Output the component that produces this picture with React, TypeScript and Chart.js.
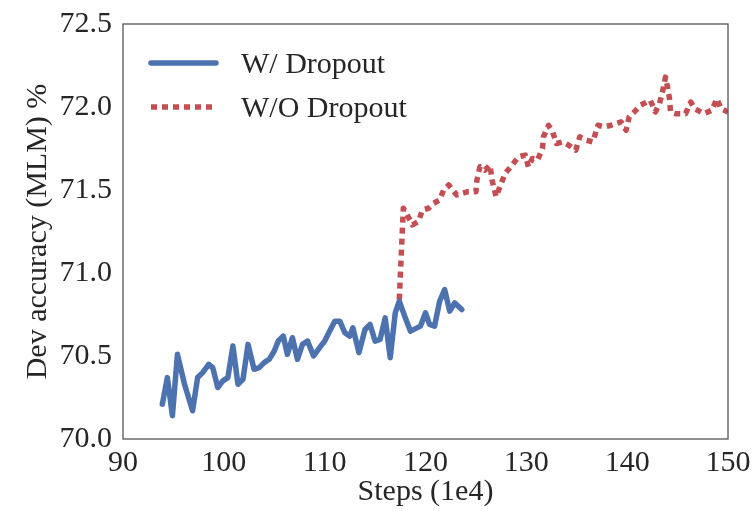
import React, { useEffect, useRef } from "react";
import { Chart, registerables } from "chart.js";

Chart.register(...registerables);

const blueX = [93.9, 94.4, 94.9, 95.4, 96.1, 96.9, 97.4, 97.9, 98.5, 98.9, 99.4, 99.9, 100.4, 100.9, 101.4, 101.9, 102.4, 103.0, 103.5, 104.0, 104.5, 105.0, 105.4, 105.9, 106.3, 106.8, 107.3, 107.8, 108.3, 108.9, 109.5, 110.0, 110.5, 111.0, 111.5, 112.0, 112.5, 112.8, 113.4, 114.0, 114.5, 115.0, 115.5, 116.0, 116.5, 117.0, 117.4, 118.0, 118.5, 119.5, 120.0, 120.4, 120.9, 121.4, 121.9, 122.4, 122.9, 123.6];
const blueY = [70.21, 70.37, 70.14, 70.51, 70.33, 70.17, 70.37, 70.40, 70.45, 70.43, 70.31, 70.35, 70.37, 70.56, 70.33, 70.36, 70.57, 70.42, 70.43, 70.46, 70.48, 70.53, 70.59, 70.62, 70.51, 70.61, 70.48, 70.57, 70.59, 70.50, 70.55, 70.59, 70.65, 70.71, 70.71, 70.64, 70.62, 70.67, 70.52, 70.66, 70.69, 70.59, 70.60, 70.73, 70.49, 70.76, 70.83, 70.73, 70.65, 70.68, 70.76, 70.69, 70.68, 70.83, 70.90, 70.77, 70.82, 70.78];

const redX = [117.4, 117.8, 118.1, 118.7, 119.3, 119.7, 120.3, 120.8, 121.4, 121.8, 122.3, 123.1, 124.2, 125.0, 125.1, 125.4, 125.9, 126.4, 126.6, 127.0, 127.9, 128.6, 129.2, 129.9, 130.2, 130.6, 131.1, 131.6, 131.7, 132.2, 132.6, 133.0, 133.6, 134.2, 134.9, 135.3, 135.9, 136.6, 137.1, 137.7, 138.4, 139.4, 139.9, 140.2, 140.7, 141.3, 142.3, 142.8, 143.2, 143.5, 143.8, 144.0, 144.2, 144.3, 144.8, 145.8, 146.3, 146.7, 147.6, 148.4, 148.9, 149.3, 150.0];
const redY = [70.84, 71.39, 71.36, 71.29, 71.31, 71.38, 71.39, 71.42, 71.44, 71.50, 71.53, 71.47, 71.49, 71.49, 71.56, 71.64, 71.62, 71.65, 71.56, 71.46, 71.60, 71.65, 71.70, 71.71, 71.64, 71.69, 71.68, 71.75, 71.82, 71.89, 71.85, 71.78, 71.79, 71.77, 71.74, 71.82, 71.80, 71.79, 71.89, 71.88, 71.89, 71.91, 71.86, 71.94, 71.97, 72.01, 72.04, 71.97, 72.02, 72.09, 72.18, 72.12, 72.05, 71.97, 71.96, 71.96, 72.03, 71.99, 71.96, 71.98, 72.05, 71.99, 71.97];

const seriesLabels = ["W/ Dropout", "W/O Dropout"];
const xTitle = "Steps (1e4)";
const yTitle = "Dev accuracy (MLM) %";

const FONT = "'Liberation Serif', 'DejaVu Serif', serif";
const TEXT = "#262626";

const framePlugin = {
  id: "frameAndLegend",
  afterDatasetsDraw(chart: any) {
    const { ctx, chartArea } = chart;
    ctx.save();
    ctx.strokeStyle = "#555555";
    ctx.lineWidth = 1.3;
    ctx.strokeRect(chartArea.left, chartArea.top, chartArea.right - chartArea.left, chartArea.bottom - chartArea.top);
    // legend
    const x0 = chartArea.left + 28;
    const len = 65;
    const rows = [chartArea.top + 39, chartArea.top + 83];
    chart.data.datasets.forEach((ds: any, i: number) => {
      const y = rows[i];
      ctx.beginPath();
      ctx.strokeStyle = ds.borderColor;
      ctx.lineWidth = ds.borderWidth;
      ctx.setLineDash(ds.borderDash || []);
      ctx.lineCap = ds.borderDash ? "butt" : "round";
      ctx.moveTo(x0, y);
      ctx.lineTo(x0 + len, y);
      ctx.stroke();
      ctx.setLineDash([]);
      ctx.fillStyle = TEXT;
      ctx.font = `30px ${FONT}`;
      ctx.textBaseline = "middle";
      ctx.textAlign = "left";
      ctx.fillText(ds.label, x0 + len + 25, y + 2);
    });
    ctx.restore();
  },
};

export default function App() {
  const ref = useRef<HTMLCanvasElement | null>(null);
  useEffect(() => {
    document.body.style.margin = "0";
    const chart = new Chart(ref.current as HTMLCanvasElement, {
      type: "line",
      data: {
        datasets: [
          {
            label: seriesLabels[0],
            data: blueX.map((x, i) => ({ x, y: blueY[i] })),
            borderColor: "#4C72B0",
            borderWidth: 5.5,
            borderCapStyle: "round",
            borderJoinStyle: "round",
            pointRadius: 0,
            tension: 0,
            clip: 0,
          },
          {
            label: seriesLabels[1],
            data: redX.map((x, i) => ({ x, y: redY[i] })),
            borderColor: "#C44E52",
            borderWidth: 5.5,
            borderDash: [6, 5],
            borderJoinStyle: "round",
            pointRadius: 0,
            tension: 0,
            clip: 0,
          },
        ],
      },
      options: {
        animation: false,
        responsive: false,
        maintainAspectRatio: false,
        layout: { padding: { left: 0, right: 27, top: 24, bottom: 0 } },
        plugins: { legend: { display: false }, tooltip: { enabled: false } },
        scales: {
          x: {
            type: "linear",
            min: 90,
            max: 150,
            grid: { display: false, drawTicks: false },
            border: { display: false },
            ticks: { stepSize: 10, color: TEXT, font: { family: FONT, size: 30 }, padding: 6, maxRotation: 0 },
            title: { display: true, text: xTitle, color: TEXT, font: { family: FONT, size: 30 }, padding: { top: 0, bottom: 1 } },
            afterFit: (s: any) => { s.height = 72; s.paddingLeft = 0; s.paddingRight = 0; },
          },
          y: {
            min: 70,
            max: 72.5,
            grid: { display: false, drawTicks: false },
            border: { display: false },
            ticks: {
              stepSize: 0.5,
              color: TEXT,
              font: { family: FONT, size: 30 },
              padding: 11,
              callback: (v: any) => Number(v).toFixed(1),
            },
            title: { display: true, text: yTitle, color: TEXT, font: { family: FONT, size: 30 }, padding: { top: 20, bottom: 0 } },
            afterFit: (s: any) => { s.width = 123; s.paddingTop = 0; s.paddingBottom = 0; },
          },
        },
      },
      plugins: [framePlugin],
    } as any);
    return () => chart.destroy();
  }, []);
  return (
    <div style={{ width: 755, height: 511 }}>
      <canvas ref={ref} width={755} height={511} style={{ display: "block", width: 755, height: 511 }} />
    </div>
  );
}
